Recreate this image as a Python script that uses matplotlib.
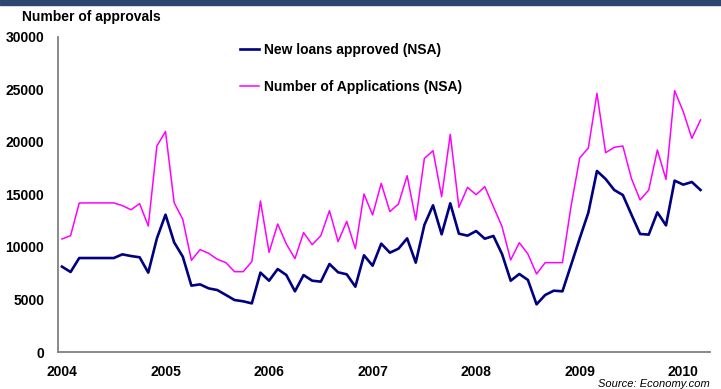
import matplotlib
matplotlib.use("Agg")
import matplotlib.pyplot as plt
import numpy as np

plt.rcParams['font.family'] = ['Liberation Sans', 'DejaVu Sans']

# monthly, Jan 2004 .. Mar 2010
approved = [8130, 7620, 8950, 8950, 8950, 8950, 8950, 9300, 9140, 9020,
            7560, 10820, 13080, 10440, 9080, 6320, 6440, 6060, 5900, 5430,
            4950, 4830, 4630, 7560, 6790, 7900, 7330, 5780, 7330, 6790,
            6700, 8380, 7590, 7400, 6220, 9210, 8220, 10320, 9460, 9840,
            10820, 8510, 12100, 13970, 11210, 14160, 11270, 11080, 11520, 10790,
            11050, 9330, 6790, 7430, 6860, 4540, 5430, 5840, 5780, 8290,
            10820, 13270, 17240, 16480, 15430, 14950, 13080, 11240, 11180, 13300,
            12060, 16320, 15940, 16190, 15430]
applications = [10760, 11080, 14190, 14200, 14200, 14200, 14200, 13940, 13550, 14130,
                12000, 19620, 21000, 14220, 12630, 8730, 9750, 9400, 8830, 8510,
                7650, 7650, 8600, 14380, 9490, 12190, 10290, 8890, 11370, 10220,
                11080, 13460, 10510, 12440, 9840, 15050, 13050, 16060, 13370, 14100,
                16790, 12570, 18440, 19170, 14790, 20730, 13780, 15680, 14980, 15750,
                13840, 11940, 8760, 10410, 9330, 7430, 8510, 8510, 8510, 13900,
                18480, 19430, 24630, 18980, 19490, 19620, 16510, 14480, 15430, 19240,
                16440, 24890, 22890, 20350, 22100]
years = ['2004', '2005', '2006', '2007', '2008', '2009', '2010']
yticks = [0, 5000, 10000, 15000, 20000, 25000, 30000]

W, H = 721, 389
fig = plt.figure(figsize=(W / 100, H / 100), dpi=100)
ax = fig.add_axes([58 / W, 1 - 352 / H, (710 - 58) / W, (352 - 37) / H])

months = np.arange(len(approved))
ax.plot(months, approved, color='#000080', lw=1.9, label='New loans approved (NSA)')
ax.plot(months, applications, color='#FF00FF', lw=1.1, label='Number of Applications (NSA)')

ax.set_ylim(0, 30000)
ax.set_xlim(-0.46, 75.1)
ax.set_yticks(yticks)
ax.set_yticklabels([str(v) for v in yticks], fontsize=10, fontweight='bold')
ax.set_xticks(np.arange(len(years)) * 12)
ax.set_xticklabels(years, fontsize=10, fontweight='bold')
ax.tick_params(axis='y', length=0, pad=10)
ax.tick_params(axis='x', length=0, pad=9)

for s in ['top', 'right']:
    ax.spines[s].set_visible(False)
for s in ['left', 'bottom']:
    ax.spines[s].set_color('#808080')
    ax.spines[s].set_linewidth(1.3)

fig.legend(loc='upper left', bbox_to_anchor=(240 / W, 1 - 43 / H), frameon=False,
           prop={'size': 10, 'weight': 'bold'}, handlelength=1.4, handletextpad=0.3,
           labelspacing=1.65, borderpad=0, borderaxespad=0)

# top band and titles
fig.patches.append(plt.Rectangle((0, 1 - 5 / H), 1, 5 / H, transform=fig.transFigure,
                                 color='#2C4670', zorder=5))
fig.text(22 / W, 1 - 17 / H, 'Number of approvals', fontsize=10, fontweight='bold',
         va='center', ha='left')
fig.text(710 / W, 1 - 384 / H, 'Source: Economy.com', fontsize=8, style='italic',
         va='center', ha='right')

fig.savefig('out.png', dpi=100)
